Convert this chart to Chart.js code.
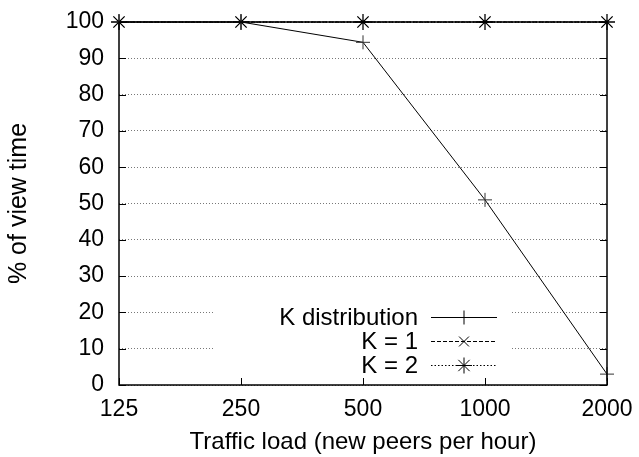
<!DOCTYPE html>
<html lang="en">
<head>
    <meta charset="UTF-8">
    <title>% of view time vs traffic load</title>
    <style>
        html, body { margin: 0; padding: 0; background: #fff; }
        .container { width: 639px; height: 457px; }
    </style>
</head>
<body>
<div class="container">
    <canvas id="chart" width="639" height="457"></canvas>
</div>

<script src="https://cdn.jsdelivr.net/npm/chart.js"></script>
<script>
    // data
    const loads = ['125', '250', '500', '1000', '2000'];
    const kDistribution = [100, 100, 94.4, 51, 3];
    const kOne = [100, 100, 100, 100, 100];
    const kTwo = [100, 100, 100, 100, 100];
    const yTicks = [0, 10, 20, 30, 40, 50, 60, 70, 80, 90, 100];

    const FONT = "'Liberation Sans', Arial, sans-serif";

    // box around plot, inward tick marks, and gnuplot-style key inside the plot
    const framePlugin = {
        id: 'frame',
        beforeDatasetsDraw(chart) {
            const { ctx, chartArea: a } = chart;
            ctx.save();
            // key background hides the grid lines behind it
            ctx.fillStyle = '#fff';
            ctx.fillRect(213, 298, 298, a.bottom - 298);
            ctx.restore();
        },
        afterDatasetsDraw(chart) {
            const { ctx, chartArea: a, scales } = chart;
            ctx.save();
            ctx.strokeStyle = '#000';
            ctx.lineWidth = 1;
            ctx.setLineDash([]);
            // y ticks on both sides
            yTicks.forEach(v => {
                const y = Math.round(scales.y.getPixelForValue(v)) + 0.5;
                ctx.beginPath();
                ctx.moveTo(a.left, y); ctx.lineTo(a.left + 7, y);
                ctx.moveTo(a.right, y); ctx.lineTo(a.right - 7, y);
                ctx.stroke();
            });
            // x ticks at the bottom
            loads.forEach((l, i) => {
                const x = Math.round(scales.x.getPixelForValue(i)) + 0.5;
                ctx.beginPath();
                ctx.moveTo(x, a.bottom); ctx.lineTo(x, a.bottom - 7);
                ctx.stroke();
            });
            // frame
            ctx.lineWidth = 1.5;
            ctx.strokeRect(a.left, a.top, a.right - a.left, a.bottom - a.top);

            // key
            const rows = chart.data.datasets;
            ctx.font = '24px ' + FONT;
            ctx.textAlign = 'right';
            ctx.textBaseline = 'middle';
            rows.forEach((ds, i) => {
                const y = 317 + i * 24;
                ctx.fillStyle = '#000';
                ctx.fillText(ds.label, 418, y + 1);
                ctx.lineWidth = 1;
                ctx.setLineDash(ds.borderDash || []);
                ctx.beginPath();
                ctx.moveTo(431, y + 0.5); ctx.lineTo(497, y + 0.5);
                ctx.stroke();
                ctx.setLineDash([]);
                Chart.helpers.drawPoint(ctx, {
                    pointStyle: ds.pointStyle,
                    radius: ds.pointRadius,
                    rotation: 0,
                    borderWidth: 1
                }, 464, y + 0.5);
            });
            ctx.restore();
        }
    };

    new Chart(document.getElementById('chart').getContext('2d'), {
        type: 'line',
        data: {
            labels: loads,
            datasets: [
                {
                    label: 'K distribution',
                    data: kDistribution,
                    borderColor: '#000',
                    backgroundColor: '#000',
                    borderWidth: 1,
                    pointStyle: 'cross',
                    pointRadius: 7,
                    pointBorderColor: '#333',
                    pointBorderWidth: 1,
                    clip: false,
                    tension: 0
                },
                {
                    label: 'K = 1',
                    data: kOne,
                    borderColor: '#000',
                    backgroundColor: '#000',
                    borderWidth: 1.2,
                    borderDash: [4, 2],
                    pointStyle: 'crossRot',
                    pointRadius: 7,
                    pointBorderColor: '#000',
                    pointBorderWidth: 1,
                    clip: false,
                    tension: 0
                },
                {
                    label: 'K = 2',
                    data: kTwo,
                    borderColor: '#000',
                    backgroundColor: '#000',
                    borderWidth: 1.2,
                    borderDash: [1.5, 2],
                    pointStyle: 'star',
                    pointRadius: 8,
                    pointBorderColor: '#000',
                    pointBorderWidth: 1.3,
                    clip: false,
                    tension: 0
                }
            ]
        },
        options: {
            responsive: false,
            animation: false,
            layout: { padding: { left: 0, right: 32, top: 22, bottom: 0 } },
            plugins: {
                legend: { display: false },
                tooltip: { enabled: false }
            },
            scales: {
                x: {
                    type: 'category',
                    offset: false,
                    grid: { display: false, drawTicks: false },
                    border: { display: false },
                    ticks: {
                        color: '#000',
                        font: { family: FONT, size: 23 },
                        padding: 11,
                        maxRotation: 0,
                        autoSkip: false
                    },
                    title: {
                        display: true,
                        text: 'Traffic load (new peers per hour)',
                        color: '#000',
                        font: { family: FONT, size: 24 },
                        padding: { top: 4, bottom: 0 }
                    },
                    afterFit(scale) {
                        scale.height = 72;
                        scale.paddingLeft = 0;
                        scale.paddingRight = 0;
                    }
                },
                y: {
                    min: 0,
                    max: 100,
                    afterBuildTicks(scale) {
                        scale.ticks = yTicks.map(v => ({ value: v }));
                    },
                    grid: {
                        color: '#555',
                        lineWidth: 0.8,
                        drawTicks: false
                    },
                    border: { display: false, dash: [1, 2] },
                    ticks: {
                        color: '#000',
                        font: { family: FONT, size: 23 },
                        padding: 15
                    },
                    title: {
                        display: true,
                        text: '% of view time',
                        color: '#000',
                        font: { family: FONT, size: 25 },
                        padding: { top: 4, bottom: 0 }
                    },
                    afterFit(scale) {
                        scale.width = 119;
                        scale.paddingTop = 0;
                        scale.paddingBottom = 0;
                    }
                }
            }
        },
        plugins: [framePlugin]
    });
</script>
</body>
</html>
